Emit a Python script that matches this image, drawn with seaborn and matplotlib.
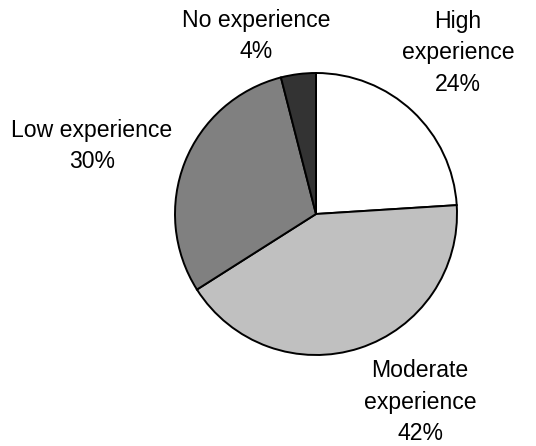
import matplotlib
matplotlib.use("Agg")
import matplotlib.pyplot as plt
import seaborn as sns

sns.set_style("white")
plt.rcParams['font.family'] = ['Liberation Sans', 'DejaVu Sans']

categories = ["High experience", "Moderate experience", "Low experience", "No experience"]
values = [24, 42, 30, 4]
label_texts = ["High\nexperience\n24%", "Moderate\nexperience\n42%",
               "Low experience\n30%", "No experience\n4%"]
colors = ["#ffffff", "#c0c0c0", "#808080", "#333333"]

W, H = 536, 446
fig = plt.figure(figsize=(W / 100, H / 100), dpi=100)
ax = fig.add_axes([0, 0, 1, 1])
ax.set_xlim(0, W)
ax.set_ylim(0, H)
ax.set_aspect("equal")
ax.axis("off")

ax.pie(values, colors=colors, startangle=90, counterclock=False,
       center=(316, H - 214), radius=141,
       wedgeprops=dict(edgecolor="black", linewidth=1.4))
ax.set_xlim(0, W)
ax.set_ylim(0, H)

label_pos = [(458, H - 53), (420, H - 402), (92, H - 146), (256, H - 36)]
for txt, (x, y) in zip(label_texts, label_pos):
    ax.text(x, y, txt, ha="center", va="center", fontsize=16.6,
            linespacing=1.45, color="black", multialignment="center")

fig.savefig("out.png", dpi=100)
